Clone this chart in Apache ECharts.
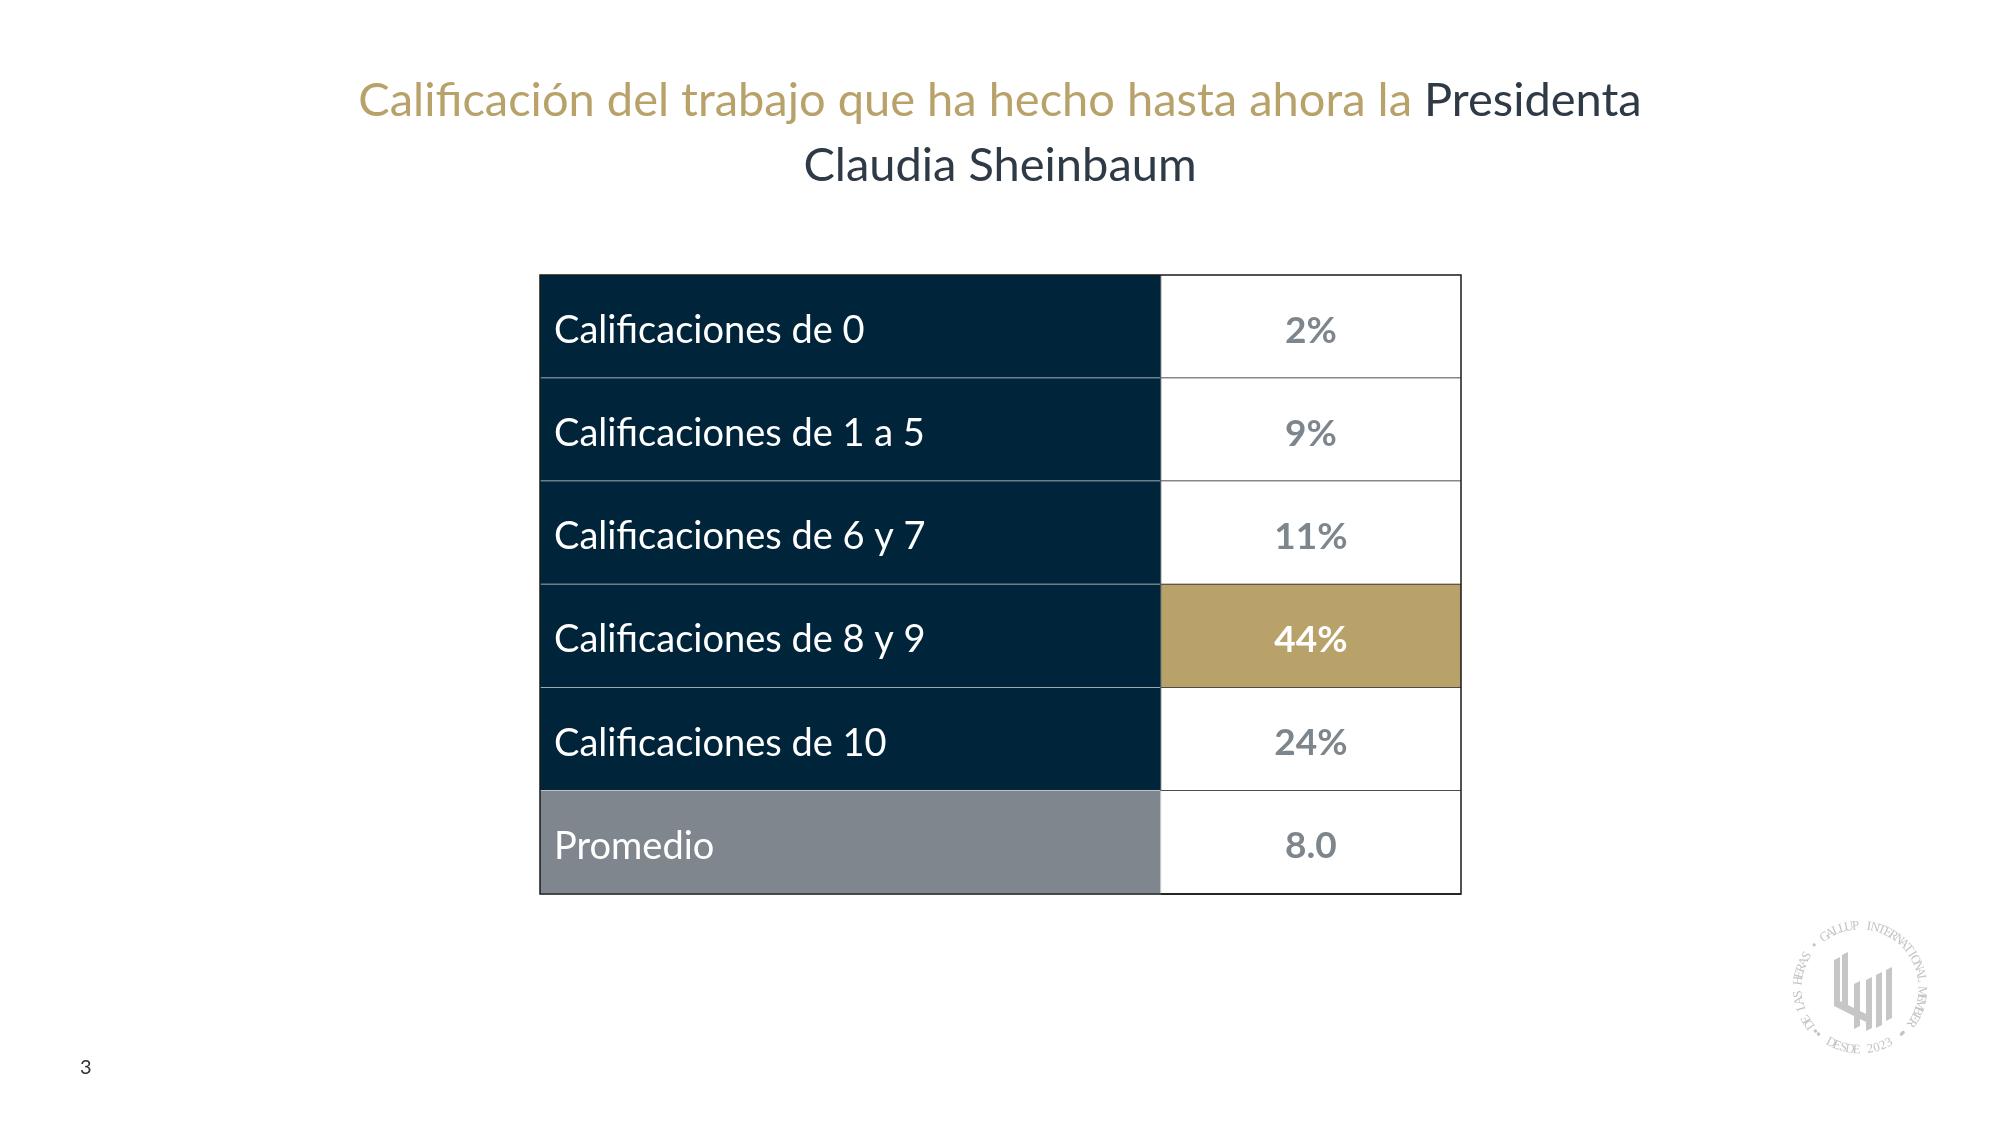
<!DOCTYPE html>
<html lang="es">
<head>
    <meta charset="utf-8">
    <title>Calificación Presidenta</title>
    <script src="https://cdn.jsdelivr.net/npm/echarts@6/dist/echarts.min.js"></script>
    <style>
        html, body { margin: 0; padding: 0; background: #fff; }
        #chart { width: 2000px; height: 1125px; }
    </style>
</head>
<body>
    <div id="chart"></div>
    <script>
        var categories = ['Calificaciones de 0', 'Calificaciones de 1 a 5', 'Calificaciones de 6 y 7',
                          'Calificaciones de 8 y 9', 'Calificaciones de 10', 'Promedio'];
        var shares = [2, 9, 11, 44, 24];
        var average = 8.0;

        var valueTexts = shares.map(function (v) { return v + '%'; }).concat([average.toFixed(1)]);
        var maxShare = Math.max.apply(null, shares);

        var NAVY = '#00243a', GOLD = '#b8a26a', GREY = '#7f868d', FONT = 'Lato';
        var SPLIT = 0.674;

        var rows = categories.map(function (c, i) {
            return [0, i, valueTexts[i]];
        });

        function renderRow(params, api) {
            var i = api.value(1);
            var c = api.coord([0, i]);
            var h = api.size([1, 1])[1];
            var top = c[1] - h / 2;
            var xL = c[0], xS = api.coord([SPLIT, i])[0], xR = api.coord([1, i])[0];
            var isAvg = i === categories.length - 1;
            var hot = !isAvg && shares[i] === maxShare;
            return {
                type: 'group',
                children: [
                    { type: 'rect', shape: { x: xL, y: top, width: xS - xL, height: h },
                      style: { fill: isAvg ? GREY : NAVY } },
                    { type: 'rect', shape: { x: xS, y: top, width: xR - xS, height: h },
                      style: { fill: hot ? GOLD : '#fff' } },
                    { type: 'line', shape: { x1: xL, y1: top + h, x2: xS, y2: top + h },
                      style: { stroke: '#d3d7db', lineWidth: 1.5 } },
                    { type: 'line', shape: { x1: xS, y1: top + h, x2: xR, y2: top + h },
                      style: { stroke: '#111', lineWidth: 1.5 } },
                    { type: 'line', shape: { x1: xS, y1: top, x2: xS, y2: top + h },
                      style: { stroke: isAvg ? '#c9cdd1' : '#3a4a58', lineWidth: 1 } },
                    { type: 'text', x: xL + 14, y: c[1] + 4,
                      style: { text: categories[i], fill: '#fff', font: '38px ' + FONT,
                               verticalAlign: 'middle', align: 'left' } },
                    { type: 'text', x: (xS + xR) / 2, y: c[1] + 4,
                      style: { text: api.value(2), fill: hot ? '#fff' : '#7e868d',
                               font: 'bold 37px ' + FONT, verticalAlign: 'middle', align: 'center' } }
                ]
            };
        }

        // sello de la esquina inferior derecha
        var seal = [];
        var cx = 1860, cy = 988, r = 62;
        var SEAL = '#c4c4c4', SEAL_FONT = '13px "Liberation Serif"';
        var ring = 'DE LAS HERAS \u2022 GALLUP INTERNATIONAL MEMBER';
        var a0 = -126, a1 = 124;
        for (var k = 0; k < ring.length; k++) {
            var a = (a0 + (a1 - a0) * k / (ring.length - 1)) * Math.PI / 180;
            seal.push({ type: 'text', x: cx + r * Math.sin(a), y: cy - r * Math.cos(a), rotation: -a,
                        style: { text: ring[k], fill: SEAL, font: SEAL_FONT,
                                 align: 'center', verticalAlign: 'middle' } });
        }
        var low = 'DESDE 2023';
        for (var k = 0; k < low.length; k++) {
            var a = (208 - 56 * k / (low.length - 1)) * Math.PI / 180;
            seal.push({ type: 'text', x: cx + r * Math.sin(a), y: cy - r * Math.cos(a), rotation: Math.PI - a,
                        style: { text: low[k], fill: SEAL, font: SEAL_FONT,
                                 align: 'center', verticalAlign: 'middle' } });
        }
        [-134, 136, 222, 140].slice(0, 3).concat([-222]).forEach(function (deg) {
            var a = deg * Math.PI / 180;
            seal.push({ type: 'circle', shape: { cx: cx + r * Math.sin(a), cy: cy - r * Math.cos(a), r: 1.8 },
                        style: { fill: SEAL } });
        });
        [[-26, -28, 42], [-18, -33, 52], [-6, -4, 42], [6, -8, 48], [16, -13, 50], [26, -18, 48]].forEach(function (b) {
            seal.push({ type: 'polygon', shape: { points: [[cx + b[0], cy + b[1]], [cx + b[0] + 6, cy + b[1] - 3],
                        [cx + b[0] + 6, cy + b[1] + b[2]], [cx + b[0], cy + b[1] + b[2] + 3]] },
                        style: { fill: '#c6c6c6' } });
        });
        seal.push({ type: 'polygon', shape: { points: [[cx - 26, cy + 10], [cx + 6, cy + 26], [cx + 6, cy + 34], [cx - 26, cy + 18]] },
                    style: { fill: '#c6c6c6' } });

        var chart = echarts.init(document.getElementById('chart'));
        var option = {
            backgroundColor: '#fff',
            animation: false,
            grid: { left: 540, right: 539, top: 275, bottom: 231 },
            xAxis: { type: 'value', min: 0, max: 1, show: false },
            yAxis: { type: 'category', data: categories, inverse: true, show: false },
            series: [{
                type: 'custom',
                renderItem: renderRow,
                encode: { x: 0, y: 1 },
                data: rows
            }],
            graphic: [
                { type: 'text', left: 'center', top: 77,
                  style: { rich: { g: { fill: GOLD, font: '47px ' + FONT }, d: { fill: '#2e3a46', font: '47px ' + FONT } },
                           text: '{g|Calificación del trabajo que ha hecho hasta ahora la }{d|Presidenta}' } },
                { type: 'text', left: 'center', top: 142,
                  style: { text: 'Claudia Sheinbaum', fill: '#2e3a46', font: '47px ' + FONT } },
                { type: 'rect', shape: { x: 540, y: 275, width: 921, height: 619 }, z: 100,
                  style: { fill: 'none', stroke: '#1a1a1a', lineWidth: 1.5 } },
                { type: 'text', x: 80, y: 1058, style: { text: '3', fill: '#333', font: '20px ' + FONT } },
                { type: 'group', children: seal }
            ]
        };
        chart.setOption(option);
    </script>
</body>
</html>
